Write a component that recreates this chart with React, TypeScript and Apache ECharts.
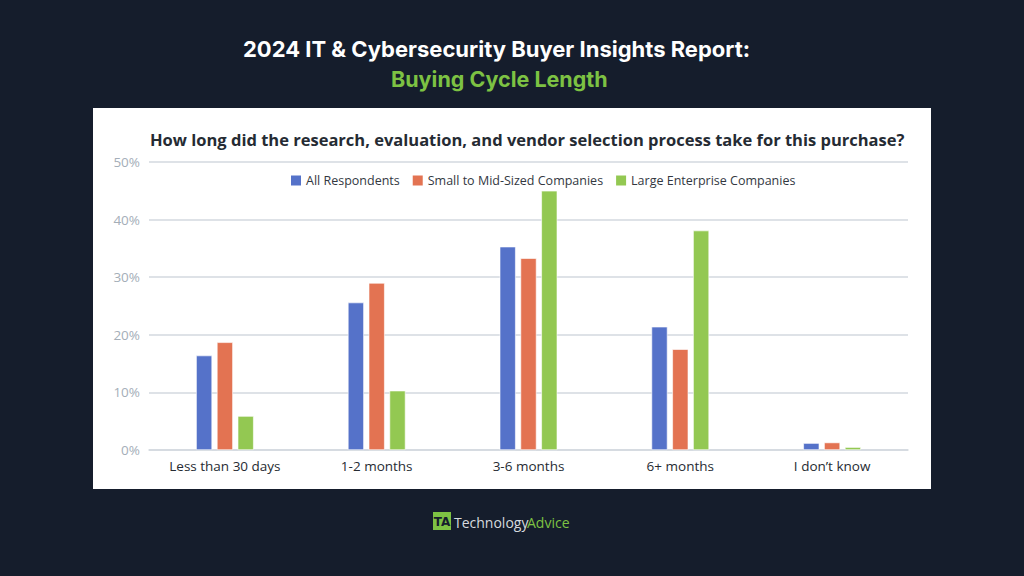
import React, { useEffect, useRef } from 'react';
import * as echarts from 'echarts';

// 调查数据（单位：%）
const categories = ['Less than 30 days', '1-2 months', '3-6 months', '6+ months', 'I don\u2019t know'];
const seriesNames = ['All Respondents', 'Small to Mid-Sized Companies', 'Large Enterprise Companies'];
const allRespondents = [16.4, 25.6, 35.3, 21.4, 1.2];
const smallMid = [18.7, 29.0, 33.3, 17.5, 1.3];
const largeEnterprise = [5.9, 10.3, 45.0, 38.1, 0.5];
const yTicks = [0, 10, 20, 30, 40, 50];

const colors = ['#5572c9', '#e37352', '#93c852'];

const App = () => {
    const chartRef = useRef(null);

    useEffect(() => {
        const chart = echarts.init(chartRef.current, null, { renderer: 'svg' });

        const values = [allRespondents, smallMid, largeEnterprise];

        const options = {
            animation: false,
            backgroundColor: '#151d2c',
            title: [
                {
                    text: '2024 IT & Cybersecurity Buyer Insights Report:',
                    left: 238,
                    top: 33,
                    textStyle: { color: '#ffffff', fontFamily: 'Inter', fontWeight: 'bold', fontSize: 22 }
                },
                {
                    text: 'Buying Cycle Length',
                    left: 386,
                    top: 63,
                    textStyle: { color: '#7dc243', fontFamily: 'Inter', fontWeight: 'bold', fontSize: 21.5 }
                },
                {
                    text: 'How long did the research, evaluation, and vendor selection process take for this purchase?',
                    left: 145,
                    top: 126,
                    textStyle: { color: '#252b33', fontFamily: 'Open Sans', fontWeight: 'bold', fontSize: 16.5 }
                }
            ],
            legend: {
                data: seriesNames,
                left: 286,
                top: 169,
                icon: 'rect',
                itemWidth: 10,
                itemHeight: 10,
                itemGap: 13,
                itemStyle: { borderWidth: 0 },
                textStyle: { color: '#33383f', fontFamily: 'Open Sans', fontSize: 12.5 }
            },
            grid: { left: 149, right: 116, top: 162, bottom: 126 },
            xAxis: {
                type: 'category',
                data: categories,
                axisTick: { show: false },
                axisLine: { lineStyle: { color: '#d3d9df', width: 1.5 } },
                axisLabel: { color: '#262b32', fontFamily: 'Open Sans', fontSize: 13.5, margin: 9 }
            },
            yAxis: {
                type: 'value',
                min: yTicks[0],
                max: yTicks[yTicks.length - 1],
                interval: 10,
                axisLabel: { formatter: '{value}%', color: '#a4aeb8', fontFamily: 'Open Sans', fontSize: 13.5, margin: 9 },
                splitLine: { lineStyle: { color: '#d3d9df', width: 1.5 } }
            },
            series: seriesNames.map((name, i) => ({
                name,
                type: 'bar',
                data: values[i],
                barWidth: 16,
                barGap: '30%',
                itemStyle: { color: colors[i], borderColor: '#ffffff', borderWidth: 0.6 }
            })),
            graphic: [
                {
                    type: 'rect',
                    z: -10,
                    shape: { x: 93, y: 108, width: 838, height: 381 },
                    style: { fill: '#ffffff' }
                },
                {
                    type: 'group',
                    left: 433,
                    top: 512,
                    children: [
                        { type: 'rect', shape: { x: 0, y: 0, width: 18, height: 18 }, style: { fill: '#7dc243' } },
                        {
                            type: 'text',
                            x: 9,
                            y: 10,
                            style: {
                                text: 'TA',
                                fill: '#151d2c',
                                font: 'bold 12px "DejaVu Sans"',
                                align: 'center',
                                verticalAlign: 'middle'
                            }
                        },
                        {
                            type: 'text',
                            x: 21,
                            y: 10,
                            style: {
                                text: 'Technology',
                                fill: '#d6dadf',
                                font: '14px "Open Sans"',
                                verticalAlign: 'middle'
                            }
                        },
                        {
                            type: 'text',
                            x: 94,
                            y: 10,
                            style: {
                                text: 'Advice',
                                fill: '#7dc243',
                                font: '14px "Open Sans"',
                                verticalAlign: 'middle'
                            }
                        }
                    ]
                }
            ]
        };

        chart.setOption(options);

        return () => {
            chart.dispose();
        };
    }, []);

    return (
        <div ref={chartRef} style={{ position: 'absolute', left: 0, top: 0, width: '1024px', height: '576px' }}></div>
    );
};

export default App;
